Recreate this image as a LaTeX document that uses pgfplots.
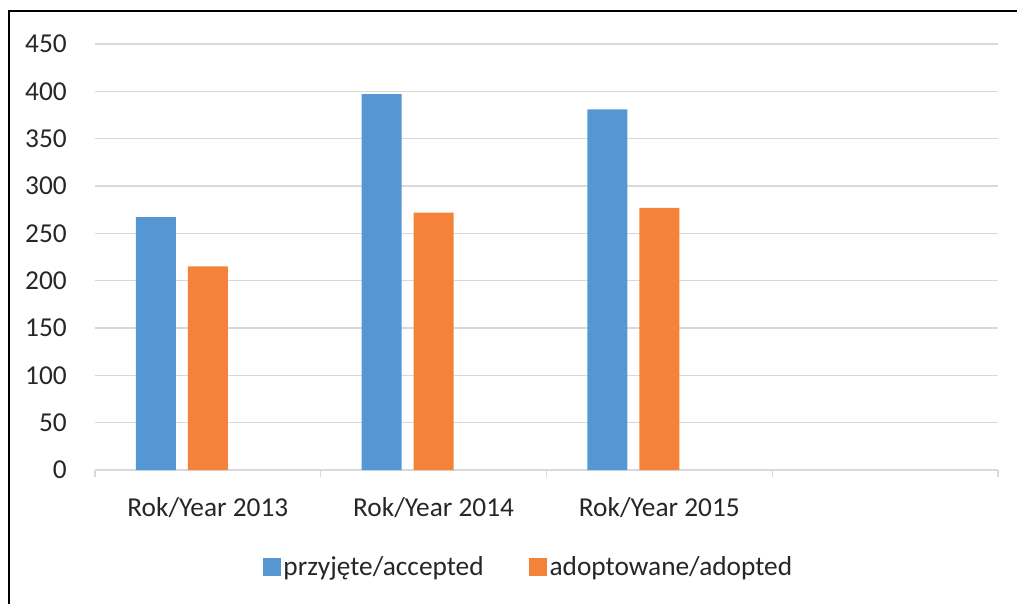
\documentclass[border=0pt]{standalone}
\usepackage{fontspec}
\setmainfont{Carlito}
\usepackage{pgfplots}
\pgfplotsset{compat=1.18}
\definecolor{cblue}{HTML}{5597D3}
\definecolor{corange}{HTML}{F4823A}
\definecolor{gridc}{HTML}{D9D9D9}
\definecolor{txt}{HTML}{262626}
\begin{document}
\begin{tikzpicture}
\useasboundingbox (0pt,0pt) rectangle (762.75pt,453pt);
\draw[line width=1.5pt] (6.75pt,0pt) -- (6.75pt,444.75pt) -- (762.75pt,444.75pt);
\begin{axis}[
  at={(71.25pt,100.5pt)}, anchor=south west,
  scale only axis, width=677.25pt, height=319.5pt,
  ymin=0, ymax=450, ytick={0,50,...,450},
  xmin=-0.5, xmax=3.5,
  xtick={0,1,2}, xticklabels={Rok/Year 2013,Rok/Year 2014,Rok/Year 2015},
  axis x line*=bottom, axis y line*=left,
  y axis line style={draw=none},
  x axis line style={draw=gridc, line width=1.2pt},
  ymajorgrids, grid style={draw=gridc, line width=1.1pt},
  xtick style={draw=none}, ytick style={draw=none},
  /pgf/number format/assume math mode=true,
  ticklabel style={font=\fontsize{20.5}{24}\selectfont, text=txt},
  xticklabel style={anchor=base, yshift=-30.75pt},
  yticklabel style={anchor=east, inner sep=0pt, xshift=-21pt},
  ybar, bar width=30pt,
  legend columns=-1,
  legend style={at={(0.1855,-0.2277)}, anchor=west, draw=none, inner sep=0pt,
    font=\fontsize{20.5}{24}\selectfont, text=txt,
    /tikz/every even column/.append style={column sep=32pt}},
  legend image code/.code={\fill[#1] (0pt,-6.75pt) rectangle (13.5pt,6.75pt);},
  clip=false,
]
\addplot[fill=cblue, draw=none, bar shift=-39pt] coordinates {(0,267) (1,397) (2,381)};
\addplot[fill=corange, draw=none, bar shift=0pt] coordinates {(0,215) (1,272) (2,277)};
\legend{przyjęte/accepted, adoptowane/adopted}
\pgfplotsinvokeforeach{-0.5,0.5,1.5,2.5,3.5}{
  \draw[gridc, line width=1pt] (axis cs:#1,0) -- ++(0pt,-5pt);
}
\end{axis}
\end{tikzpicture}
\end{document}
